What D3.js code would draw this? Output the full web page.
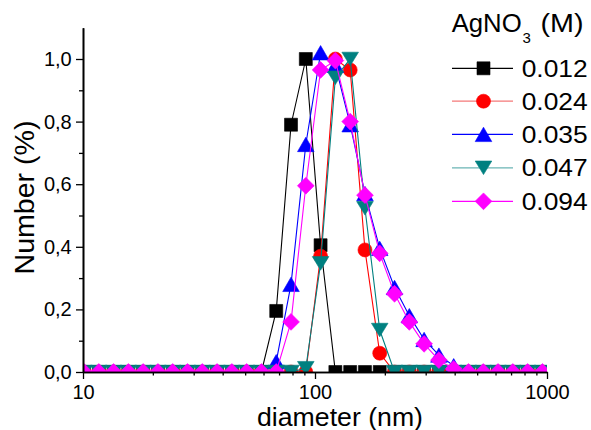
<!DOCTYPE html>
<html>
<head>
<meta charset="utf-8">
<script src="https://cdn.jsdelivr.net/npm/d3@7/dist/d3.min.js"></script>
<style>
  html, body { margin: 0; padding: 0; background: #fff; }
  svg { display: block; font-family: "Liberation Sans", Arial, sans-serif; }
</style>
</head>
<body>
<svg id="chart" width="591" height="430"></svg>
<script>
// Size classes (nm) of the number distribution
const diameters = [10.1, 11.7, 13.54, 15.69, 18.17, 21.04, 24.36, 28.21, 32.67, 37.84,
  43.82, 50.75, 58.77, 68.06, 78.82, 91.28, 105.7, 122.4, 141.8, 164.2,
  190.1, 220.2, 255.0, 295.3, 342.0, 396.1, 458.7, 531.2, 615.1, 712.4, 825.0, 955.4];

// Number (%) for each AgNO3 concentration
const n0012 = [0, 0, 0, 0, 0, 0, 0, 0, 0, 0, 0, 0, 0, 0.195, 0.79, 1.0, 0.405, 0,
  0, 0, 0, 0, 0, 0, 0, 0, 0, 0, 0, 0, 0, 0];
const n0024 = [0, 0, 0, 0, 0, 0, 0, 0, 0, 0, 0, 0, 0, 0, 0, 0, 0.37, 1.0,
  0.965, 0.39, 0.06, 0, 0, 0, 0, 0, 0, 0, 0, 0, 0, 0];
const n0035 = [0, 0, 0, 0, 0, 0, 0, 0, 0, 0, 0, 0, 0, 0.033, 0.28, 0.727, 1.02, 0.98,
  0.79, 0.57, 0.395, 0.27, 0.18, 0.104, 0.054, 0.02, 0, 0, 0, 0, 0, 0];
const n0047 = [0, 0, 0, 0, 0, 0, 0, 0, 0, 0, 0, 0, 0, 0, 0, 0.012, 0.347, 0.94,
  1.0, 0.523, 0.134, 0, 0, 0, 0, 0, 0, 0, 0, 0, 0, 0];
const n0094 = [0, 0, 0, 0, 0, 0, 0, 0, 0, 0, 0, 0, 0, 0, 0.16, 0.595, 0.965, 0.995,
  0.80, 0.565, 0.379, 0.25, 0.16, 0.09, 0.038, 0.01, 0, 0, 0, 0, 0, 0];

const seriesLabels = ["0.012", "0.024", "0.035", "0.047", "0.094"];
const seriesValues = [n0012, n0024, n0035, n0047, n0094];

// Axis ticks
const xMajorTicks = [10, 100, 1000];
const xMinorTicks = [20, 30, 40, 50, 60, 70, 80, 90, 200, 300, 400, 500, 600, 700, 800, 900];
const yMajorTicks = [0, 0.2, 0.4, 0.6, 0.8, 1.0];
const yMinorTicks = [0.1, 0.3, 0.5, 0.7, 0.9];

// Styling per series
const colors = ["#000000", "#ff0000", "#0000ff", "#008080", "#ff00ff"];
const legendLineColors = ["#000000", "#f47878", "#0000ff", "#6ab4b4", "#ff00ff"];
const shapes = ["square", "circle", "triangleUp", "triangleDown", "diamond"];

const svg = d3.select("#chart");
const plotLeft = 83, plotRight = 547, plotTop = 27.7, plotBottom = 372;

const x = d3.scaleLog().domain([10, 1000]).range([plotLeft, plotRight]);
const y = d3.scaleLinear().domain([0, 1.1]).range([plotBottom, plotTop]);

// Marker path generators, centred on the bounding box
function markerPath(shape) {
  switch (shape) {
    case "square": { const h = 6.5; return `M${-h},${-h}H${h}V${h}H${-h}Z`; }
    case "circle": { const r = 7; return `M${r},0A${r},${r} 0 1,1 ${-r},0A${r},${r} 0 1,1 ${r},0Z`; }
    case "triangleUp": { const w = 8.3, h = 7.2; return `M0,${-h}L${w},${h}L${-w},${h}Z`; }
    case "triangleDown": { const w = 8.3, h = 6.8; return `M0,${h}L${w},${-h}L${-w},${-h}Z`; }
    case "diamond": { const r = 8.4; return `M0,${-r}L${r},0L0,${r}L${-r},0Z`; }
  }
}

svg.append("defs").append("clipPath").attr("id", "plotClip")
  .append("rect").attr("x", plotLeft).attr("y", 0)
  .attr("width", plotRight - plotLeft).attr("height", plotBottom);

const plot = svg.append("g").attr("clip-path", "url(#plotClip)");

const line = d3.line().x(d => x(d[0])).y(d => y(d[1]));

seriesValues.forEach((vals, i) => {
  const pts = diameters.map((d, k) => [d, vals[k]]);
  const g = plot.append("g");
  g.append("path").datum(pts)
    .attr("d", line)
    .attr("fill", "none")
    .attr("stroke", colors[i])
    .attr("stroke-width", 1.1);
  g.selectAll("path.m").data(pts).join("path")
    .attr("class", "m")
    .attr("transform", d => `translate(${x(d[0])},${y(d[1])})`)
    .attr("d", markerPath(shapes[i]))
    .attr("fill", colors[i])
    .attr("stroke", colors[i])
    .attr("stroke-width", 0.6);
});

// Axes
const fmt = d => d3.format(".1f")(d).replace(".", ",");

function styleAxis(g) {
  g.selectAll(".domain").attr("stroke", "#000").attr("stroke-width", 1.6);
  g.selectAll(".tick line").attr("stroke", "#000").attr("stroke-width", 1.3);
  g.selectAll(".tick text").attr("fill", "#000").attr("font-size", 20)
    .attr("font-family", "'Liberation Sans', Arial, sans-serif");
}

svg.append("g").attr("transform", `translate(0,${plotBottom})`)
  .call(d3.axisBottom(x).tickValues(xMinorTicks).tickSize(3.5).tickSizeOuter(0).tickFormat(""))
  .call(styleAxis);
svg.append("g").attr("transform", `translate(0,${plotBottom})`)
  .call(d3.axisBottom(x).tickValues(xMajorTicks).tickSize(7).tickSizeOuter(0).tickPadding(5.8)
    .tickFormat(d3.format("d")))
  .call(styleAxis);

svg.append("g").attr("transform", `translate(${plotLeft},0)`)
  .call(d3.axisLeft(y).tickValues(yMinorTicks).tickSize(4).tickSizeOuter(0).tickFormat(""))
  .call(styleAxis);
svg.append("g").attr("transform", `translate(${plotLeft},0)`)
  .call(d3.axisLeft(y).tickValues(yMajorTicks).tickSize(7).tickSizeOuter(0).tickPadding(4.3)
    .tickFormat(fmt))
  .call(styleAxis);

// Axis titles
svg.append("text")
  .attr("x", 340).attr("y", 425.8)
  .attr("text-anchor", "middle")
  .attr("font-size", 25.5)
  .attr("textLength", 166)
  .attr("lengthAdjust", "spacingAndGlyphs")
  .text("diameter (nm)");

svg.append("text")
  .attr("transform", "translate(34,197.5) rotate(-90)")
  .attr("text-anchor", "middle")
  .attr("font-size", 27)
  .attr("textLength", 154)
  .attr("lengthAdjust", "spacingAndGlyphs")
  .text("Number (%)");

// Legend
const legendTitle = svg.append("text").attr("y", 32).attr("font-size", 25);
legendTitle.append("tspan").attr("x", 451.7)
  .attr("textLength", 70).attr("lengthAdjust", "spacingAndGlyphs").text("AgNO");
legendTitle.append("tspan").attr("x", 522.5).attr("font-size", 15).attr("dy", 11).text("3");
legendTitle.append("tspan").attr("x", 532.5).attr("dy", -11)
  .attr("textLength", 51).attr("lengthAdjust", "spacingAndGlyphs").text(" (M)");

const rowY = [68.3, 101.2, 134.4, 167.8, 201.3];
seriesLabels.forEach((label, i) => {
  const g = svg.append("g").attr("transform", `translate(0,${rowY[i]})`);
  g.append("line").attr("x1", 452).attr("x2", 513).attr("y1", 0).attr("y2", 0)
    .attr("stroke", legendLineColors[i]).attr("stroke-width", 1.2);
  g.append("path").attr("transform", "translate(483.5,0)")
    .attr("d", markerPath(shapes[i]))
    .attr("fill", colors[i]).attr("stroke", colors[i]).attr("stroke-width", 0.6);
  g.append("text").attr("x", 521.7).attr("y", 8.4).attr("font-size", 24.5)
    .attr("textLength", 66).attr("lengthAdjust", "spacingAndGlyphs").text(label);
});
</script>
</body>
</html>
